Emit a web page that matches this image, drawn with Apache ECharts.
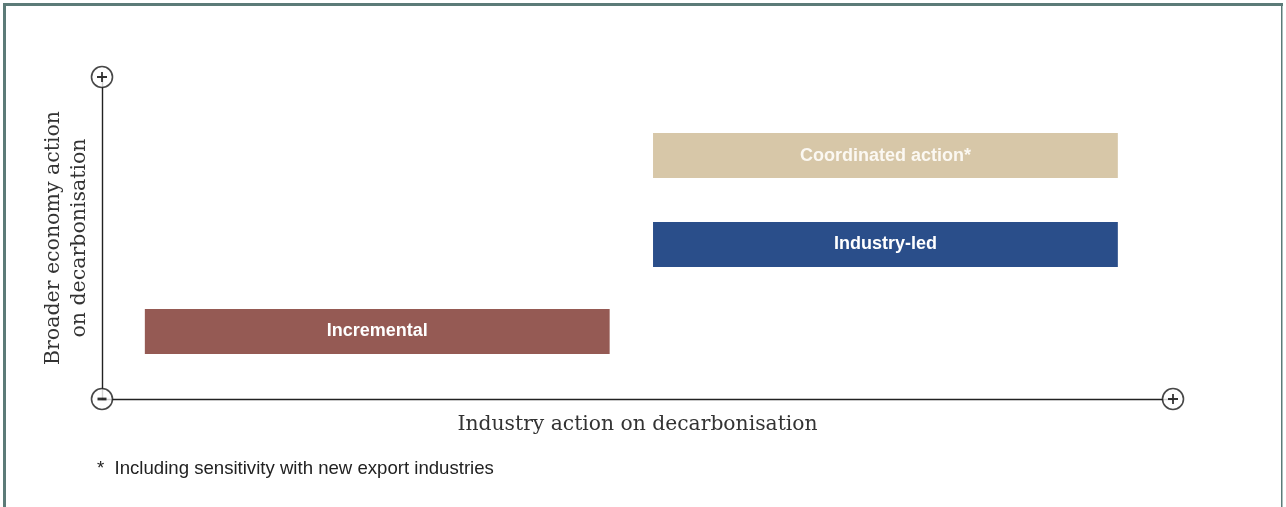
<!DOCTYPE html>
<html>
<head>
<meta charset="utf-8">
<script src="https://cdn.jsdelivr.net/npm/echarts@6/dist/echarts.min.js"></script>
<style>
  html, body { margin: 0; padding: 0; background: #fff; }
  #main { width: 1286px; height: 507px; }
</style>
</head>
<body>
<div id="main"></div>
<script>
// scenario boxes, positions in axis units (0..100 on both axes)
var scenarios = ['Incremental', 'Industry-led', 'Coordinated action*'];
var xStart = [4.0, 51.45, 51.45];
var xEnd = [47.4, 94.85, 94.85];
var yLow = [14.0, 41.0, 68.6];
var yHigh = [27.95, 55.0, 82.6];
var boxColors = ['#955a54', '#2a4e8a', '#d7c7a8'];

// circled +/- markers at the ends of the axes
var axisEnds = [[0, 100], [0, 0], [100, 0]];
var axisEndSigns = ['+', '-', '+'];

var xName = 'Industry action on decarbonisation';
var yName = 'Broader economy action\non decarbonisation';
var footnote = '*  Including sensitivity with new export industries';

var plusPath = 'path://M4.1,0h1.8v4.1h4.1v1.8h-4.1v4.1h-1.8v-4.1h-4.1v-1.8h4.1z';
var minusPath = 'path://M0,0h9v2.8h-9z';

var chartDom = document.getElementById('main');
var myChart = echarts.init(chartDom, null, { renderer: 'canvas' });

var boxData = scenarios.map(function (name, i) {
  return [xStart[i], xEnd[i], yLow[i], yHigh[i], name];
});

var signData = axisEnds.map(function (pt, i) {
  var plus = axisEndSigns[i] === '+';
  return {
    value: pt,
    symbol: plus ? plusPath : minusPath,
    symbolSize: plus ? [10, 10] : [9, 2.8]
  };
});

var option = {
  animation: false,
  backgroundColor: '#fff',
  grid: { left: 102, right: 113, top: 77, bottom: 108 },
  xAxis: {
    type: 'value',
    min: 0,
    max: 100,
    name: xName,
    nameLocation: 'middle',
    nameGap: 16,
    nameTextStyle: { fontFamily: 'DejaVu Serif', fontSize: 20.3, color: '#333' },
    axisLine: { show: true, lineStyle: { color: '#222', width: 1.4 } },
    axisTick: { show: false },
    axisLabel: { show: false },
    splitLine: { show: false }
  },
  yAxis: {
    type: 'value',
    min: 0,
    max: 100,
    name: yName,
    nameLocation: 'middle',
    nameGap: 9,
    nameTextStyle: { fontFamily: 'DejaVu Serif', fontSize: 20.5, color: '#333', lineHeight: 26 },
    axisLine: { show: true, lineStyle: { color: '#222', width: 1.4 } },
    axisTick: { show: false },
    axisLabel: { show: false },
    splitLine: { show: false }
  },
  graphic: [
    { type: 'rect', shape: { x: 3, y: 3, width: 1280, height: 3 }, style: { fill: '#5c7b78' }, silent: true },
    { type: 'rect', shape: { x: 3, y: 3, width: 3, height: 504 }, style: { fill: '#5c7b78' }, silent: true },
    { type: 'rect', shape: { x: 1281, y: 3, width: 1.5, height: 504 }, style: { fill: '#5c7b78' }, silent: true },
    {
      type: 'text',
      left: 97,
      top: 459,
      style: { text: footnote, font: '18.6px "Liberation Sans", Arial, sans-serif', fill: '#222' }
    }
  ],
  series: [
    {
      type: 'custom',
      data: boxData,
      renderItem: function (params, api) {
        var p0 = api.coord([api.value(0), api.value(3)]);
        var p1 = api.coord([api.value(1), api.value(2)]);
        return {
          type: 'rect',
          shape: { x: p0[0], y: p0[1], width: p1[0] - p0[0], height: p1[1] - p0[1] },
          style: { fill: boxColors[params.dataIndex] },
          textContent: {
            style: {
              text: scenarios[params.dataIndex],
              fill: params.dataIndex === 2 ? '#fbf8f2' : '#fff',
              font: 'bold 18px "Liberation Sans", Arial, sans-serif'
            }
          },
          textConfig: { position: 'inside' }
        };
      }
    },
    {
      type: 'scatter',
      data: axisEnds,
      symbol: 'circle',
      symbolSize: 21,
      itemStyle: { color: '#fff', borderColor: '#1a1a1a', borderWidth: 1.6 },
      z: 5
    },
    {
      type: 'scatter',
      data: signData,
      itemStyle: { color: '#000' },
      z: 6
    }
  ]
};

option && myChart.setOption(option);
</script>
</body>
</html>
